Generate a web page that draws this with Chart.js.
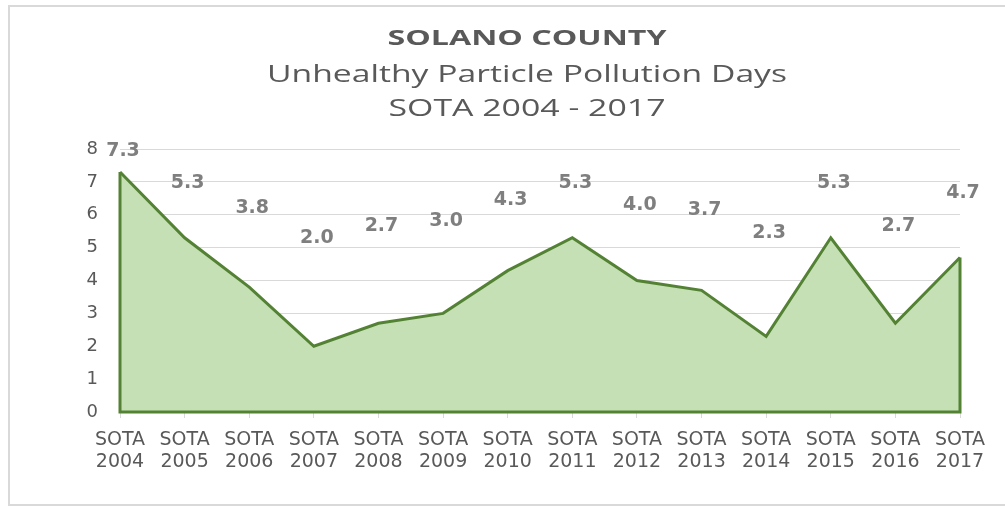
<!DOCTYPE html>
<html>
<head>
<meta charset="utf-8">
<script src="https://cdn.jsdelivr.net/npm/chart.js@4.4.1/dist/chart.umd.min.js"></script>
<style>
  html, body { margin: 0; padding: 0; background: #ffffff; }
  #wrap { position: relative; width: 1005px; height: 506px; }
</style>
</head>
<body>
<div id="wrap"><canvas id="c" width="1005" height="506"></canvas></div>
<script>
const titleLines = ["SOLANO COUNTY", "Unhealthy Particle Pollution Days", "SOTA 2004 - 2017"];
const categories = [["SOTA","2004"],["SOTA","2005"],["SOTA","2006"],["SOTA","2007"],["SOTA","2008"],["SOTA","2009"],["SOTA","2010"],["SOTA","2011"],["SOTA","2012"],["SOTA","2013"],["SOTA","2014"],["SOTA","2015"],["SOTA","2016"],["SOTA","2017"]];
const days = [7.3, 5.3, 3.8, 2.0, 2.7, 3.0, 4.3, 5.3, 4.0, 3.7, 2.3, 5.3, 2.7, 4.7];
const yMin = 0, yMax = 8, yStep = 1;

const FONT = "'DejaVu Sans', sans-serif";
const TFONT = "'Open Sans', sans-serif";
const TEXT = '#595959';

const framePlugin = {
  id: 'frame',
  beforeDraw(chart) {
    const ctx = chart.ctx;
    ctx.save();
    ctx.strokeStyle = '#d9d9d9';
    ctx.lineWidth = 2;
    ctx.strokeRect(9, 6, chart.width + 10, 499);
    ctx.restore();
  }
};

function stretchedText(ctx, text, cx, cy, font, targetWidth) {
  ctx.font = font;
  const w = ctx.measureText(text).width;
  const k = targetWidth / w;
  ctx.save();
  ctx.translate(cx, cy);
  ctx.scale(k, 1);
  ctx.fillText(text, 0, 0);
  ctx.restore();
}

const titlePlugin = {
  id: 'titles',
  afterDraw(chart) {
    const ctx = chart.ctx;
    const cx = 527;
    ctx.save();
    ctx.fillStyle = TEXT;
    ctx.textAlign = 'center';
    ctx.textBaseline = 'middle';
    stretchedText(ctx, titleLines[0], cx, 39, "bold 22px " + TFONT, 279);
    stretchedText(ctx, titleLines[1], cx, 75, "23px " + TFONT, 520);
    stretchedText(ctx, titleLines[2], cx, 109, "23px " + TFONT, 277);
    ctx.restore();
  }
};

const outlinePlugin = {
  id: 'outline',
  afterDatasetsDraw(chart) {
    const x = chart.scales.x, y = chart.scales.y;
    const ctx = chart.ctx;
    const n = days.length;
    ctx.save();
    ctx.strokeStyle = '#548235';
    ctx.lineWidth = 3;
    ctx.beginPath();
    ctx.moveTo(x.getPixelForValue(0), y.getPixelForValue(days[0]));
    ctx.lineTo(x.getPixelForValue(0), y.getPixelForValue(0));
    ctx.lineTo(x.getPixelForValue(n - 1), y.getPixelForValue(0));
    ctx.lineTo(x.getPixelForValue(n - 1), y.getPixelForValue(days[n - 1]));
    ctx.stroke();
    ctx.restore();
  }
};

const labelPlugin = {
  id: 'valueLabels',
  afterDraw(chart) {
    const x = chart.scales.x, y = chart.scales.y;
    const ctx = chart.ctx;
    ctx.save();
    ctx.fillStyle = '#7f7f7f';
    ctx.font = "bold 19px " + FONT;
    ctx.textAlign = 'center';
    ctx.textBaseline = 'middle';
    days.forEach((v, i) => {
      ctx.fillText(v.toFixed(1), x.getPixelForValue(i) + 3, y.getPixelForValue(4.3 + v / 2));
    });
    ctx.restore();
  }
};

new Chart(document.getElementById('c'), {
  type: 'line',
  data: {
    labels: categories,
    datasets: [{
      data: days,
      borderColor: '#548235',
      borderWidth: 3,
      backgroundColor: '#c5e0b4',
      fill: 'origin',
      pointRadius: 0,
      tension: 0
    }]
  },
  options: {
    responsive: false,
    animation: false,
    devicePixelRatio: 1,
    layout: { padding: { top: 149, left: 0, right: 45, bottom: 0 } },
    plugins: { legend: { display: false }, tooltip: { enabled: false }, title: { display: false } },
    scales: {
      x: {
        offset: false,
        grid: { drawOnChartArea: false, drawTicks: true, tickLength: 6, color: '#d9d9d9' },
        border: { display: true, color: '#d9d9d9' },
        ticks: { color: TEXT, font: { family: FONT, size: 19, lineHeight: 1.15 }, padding: 11, maxRotation: 0, autoSkip: false },
        afterFit(scale) { scale.height = 94; }
      },
      y: {
        min: yMin, max: yMax,
        grid: { color: '#d9d9d9', lineWidth: 1, drawTicks: false },
        border: { display: false },
        ticks: { stepSize: yStep, color: TEXT, font: { family: FONT, size: 18 }, padding: 22 },
        afterFit(scale) { scale.width = 120; }
      }
    }
  },
  plugins: [framePlugin, titlePlugin, outlinePlugin, labelPlugin]
});
</script>
</body>
</html>
